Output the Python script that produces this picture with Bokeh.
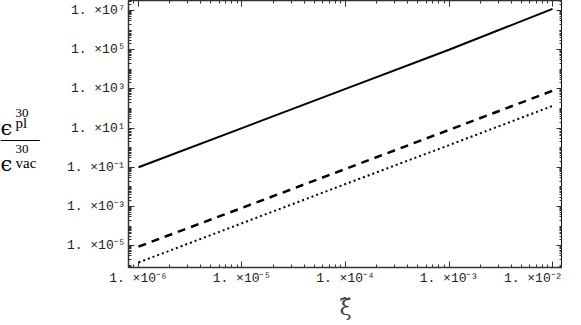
from bokeh.plotting import figure
from bokeh.models import LogAxis, FixedTicker, Range1d
from bokeh.layouts import row
from bokeh.core.properties import value
from bokeh.embed import file_html
from bokeh.resources import INLINE

# ---- data ----
xi_vals = [1e-6, 1e-5, 1e-4, 1e-3, 1e-2]
solid_vals = [1e-1, 1e1, 1e3, 1e5, 1.2e7]
dashed_vals = [9e-6, 8.5e-4, 8.3e-2, 8.1, 8.0e2]
dotted_vals = [1.4e-6, 1.4e-4, 1.4e-2, 1.35, 1.35e2]

x_ticks = [1e-6, 1e-5, 1e-4, 1e-3, 1e-2]
x_tick_labels = ["1. ×10⁻⁶", "1. ×10⁻⁵", "1. ×10⁻⁴", "1. ×10⁻³", "1. ×10⁻²"]
y_ticks = [1e-5, 1e-3, 1e-1, 1e1, 1e3, 1e5, 1e7]
y_tick_labels = ["1. ×10⁻⁵", "1. ×10⁻³", "1. ×10⁻¹", "1. ×10¹", "1. ×10³", "1. ×10⁵", "1. ×10⁷"]

x_minor = [k * 10.0 ** n for n in range(-7, -1) for k in range(1, 10) if not (k == 1 and 10.0 ** n in x_ticks)]
y_minor = [k * 10.0 ** n for n in range(-7, 8) for k in range(1, 10)]

LEFT_W = 56
PANEL_H = 300

p = figure(frame_width=434, frame_height=267, x_axis_type="log", y_axis_type="log",
           x_range=Range1d(10 ** -6.0966, 10 ** -1.9034),
           y_range=Range1d(10 ** -6.112, 10 ** 7.51),
           output_backend="svg", toolbar_location=None, title=None,
           min_border_left=128 - LEFT_W, min_border_right=0, min_border_top=0, min_border_bottom=0)

p.xgrid.visible = False
p.ygrid.visible = False
p.outline_line_color = "black"
p.background_fill_color = "white"
p.border_fill_color = "white"

p.line(xi_vals, solid_vals, line_color="black", line_width=2)
p.line(xi_vals, dashed_vals, line_color="black", line_width=2.5, line_dash="8 6")
p.line(xi_vals, dotted_vals, line_color="black", line_width=2, line_dash="2 3")

tick_font = "Liberation Mono"


def style(ax, ticks, minor, labels, show, standoff=5):
    ax.ticker = FixedTicker(ticks=ticks, minor_ticks=minor)
    ax.major_tick_in = 6
    ax.major_tick_out = 0
    ax.minor_tick_in = 3
    ax.minor_tick_out = 0
    ax.axis_line_color = "#333333"
    ax.axis_line_width = 1.5
    ax.major_tick_line_color = "#333333"
    ax.minor_tick_line_color = "#333333"
    if show:
        ax.major_label_overrides = {t: l for t, l in zip(ticks, labels)}
        ax.major_label_text_font = tick_font
        ax.major_label_text_font_size = "13px"
        ax.major_label_text_color = "#222222"
        ax.major_label_standoff = standoff
    else:
        ax.major_label_text_font_size = "0px"
        ax.major_label_standoff = 0
        ax.major_label_text_color = None


bottom = p.xaxis[0]
left = p.yaxis[0]
style(bottom, x_ticks, x_minor, x_tick_labels, True, 3)
style(left, y_ticks, y_minor, y_tick_labels, True, 3)

bottom.axis_label = "ξ̃"
bottom.axis_label_text_font = "DejaVu Serif"
bottom.axis_label_text_font_style = "normal"
bottom.axis_label_text_font_size = "22px"
bottom.axis_label_standoff = 6

top = LogAxis()
style(top, x_ticks, x_minor, x_tick_labels, False)
p.add_layout(top, "above")
right = LogAxis()
style(right, y_ticks, y_minor, y_tick_labels, False)
p.add_layout(right, "right")

# ---- y-axis title (fraction) in a narrow side panel, pixel coordinates, y downward ----
t = figure(frame_width=LEFT_W, frame_height=PANEL_H, x_range=Range1d(0, LEFT_W), y_range=Range1d(PANEL_H, 0),
           x_axis_location=None, y_axis_location=None, title=None,
           output_backend="svg", toolbar_location=None,
           min_border_left=0, min_border_right=0, min_border_top=0, min_border_bottom=0)
t.grid.visible = False
t.outline_line_color = None
t.border_fill_color = "white"
t.background_fill_color = "white"


def txt(text, x, y, size, font="Liberation Serif"):
    t.text(x=[x], y=[y], text=[text], text_font=value(font), text_font_size=value(size),
           text_color="black", text_baseline="alphabetic", text_align="left")


txt("ϵ", 0, 127, "21px", "DejaVu Serif")
txt("30", 15, 112, "13px")
txt("pl", 15, 122, "15px")
txt("─────", 0, 140, "13px", "DejaVu Sans Mono")
txt("ϵ", 0, 163, "21px", "DejaVu Serif")
txt("30", 15, 148, "13px")
txt("vac", 15, 162, "15px")

layout = row(t, p)
open("out.html", "w").write(file_html(layout, INLINE))
